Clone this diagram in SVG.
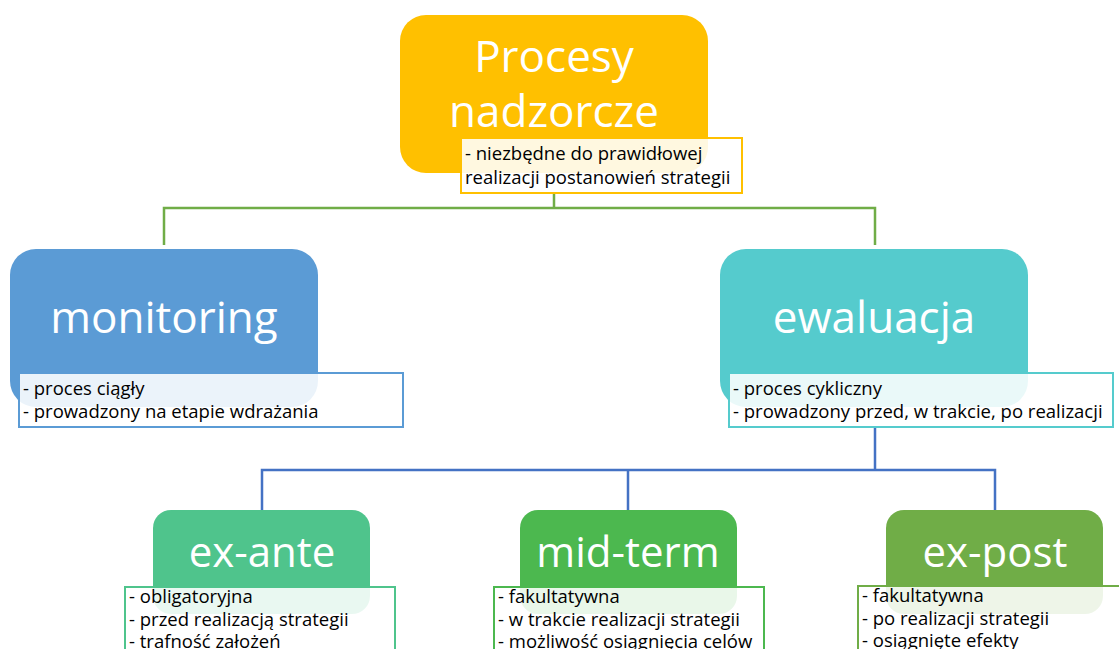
<svg xmlns="http://www.w3.org/2000/svg" width="1119" height="649" viewBox="0 0 1119 649">
<style>
.big{font-family:"Open Sans","Liberation Sans",sans-serif;fill:#fff;text-anchor:middle}
.sm{font-family:"Open Sans","Liberation Sans",sans-serif;fill:#000;font-size:18.5px}
.tb{fill:#fff;fill-opacity:0.88;stroke-width:2}
.con{fill:none;stroke-width:2.5}
</style>
<rect width="1119" height="649" fill="#fff"/>
<g id="connectors">
<path class="con" stroke="#70AD47" d="M554,193 V208 M164,245 V208 H875 V245"/>
<path class="con" stroke="#4472C4" d="M875,427 V470 M262,510 V470 H995 V510 M628,470 V510"/>
</g>
<g id="procesy">
<rect x="400" y="15" width="308" height="158" rx="26" fill="#FFC000"/>
<text class="big" x="554" y="72" font-size="44">Procesy</text>
<text class="big" x="554" y="127" font-size="44">nadzorcze</text>
<rect class="tb" x="461" y="138" width="281" height="55" stroke="#FFC000"/>
<text class="sm" x="465" y="160">- niezbędne do prawidłowej</text>
<text class="sm" x="465" y="184">realizacji postanowień strategii</text>
</g>
<g id="monitoring">
<rect x="10" y="249" width="308" height="158" rx="26" fill="#5B9BD5"/>
<text class="big" x="164" y="333" font-size="44">monitoring</text>
<rect class="tb" x="19" y="373" width="384" height="54" stroke="#5B9BD5"/>
<text class="sm" x="23" y="395">- proces ciągły</text>
<text class="sm" x="23" y="418">- prowadzony na etapie wdrażania</text>
</g>
<g id="ewaluacja">
<rect x="720" y="249" width="308" height="158" rx="26" fill="#55CBCD"/>
<text class="big" x="874" y="333" font-size="44">ewaluacja</text>
<rect class="tb" x="729" y="373" width="384" height="54" stroke="#55CBCD"/>
<text class="sm" x="733" y="395">- proces cykliczny</text>
<text class="sm" x="733" y="418">- prowadzony przed, w trakcie, po realizacji</text>
</g>
<g id="ex-ante">
<rect x="153" y="510" width="217" height="104" rx="18" fill="#4FC48C"/>
<text class="big" x="262" y="567" font-size="42">ex-ante</text>
<rect class="tb" x="125" y="587" width="270" height="80" stroke="#4FC48C"/>
<text class="sm" x="129" y="603">- obligatoryjna</text>
<text class="sm" x="129" y="626">- przed realizacją strategii</text>
<text class="sm" x="129" y="648">- trafność założeń</text>
</g>
<g id="mid-term">
<rect x="520" y="510" width="217" height="104" rx="18" fill="#4CB84F"/>
<text class="big" x="628" y="567" font-size="42">mid-term</text>
<rect class="tb" x="494" y="587" width="270" height="80" stroke="#4CB84F"/>
<text class="sm" x="498" y="603">- fakultatywna</text>
<text class="sm" x="498" y="626">- w trakcie realizacji strategii</text>
<text class="sm" x="498" y="648">-  możliwość osiągnięcia celów</text>
</g>
<g id="ex-post">
<rect x="886" y="510" width="217" height="104" rx="18" fill="#70AD47"/>
<text class="big" x="995" y="567" font-size="42">ex-post</text>
<rect class="tb" x="858" y="586" width="280" height="80" stroke="#70AD47"/>
<text class="sm" x="862" y="602">- fakultatywna</text>
<text class="sm" x="862" y="625">- po realizacji strategii</text>
<text class="sm" x="862" y="647">- osiągnięte efekty</text>
</g>
</svg>
